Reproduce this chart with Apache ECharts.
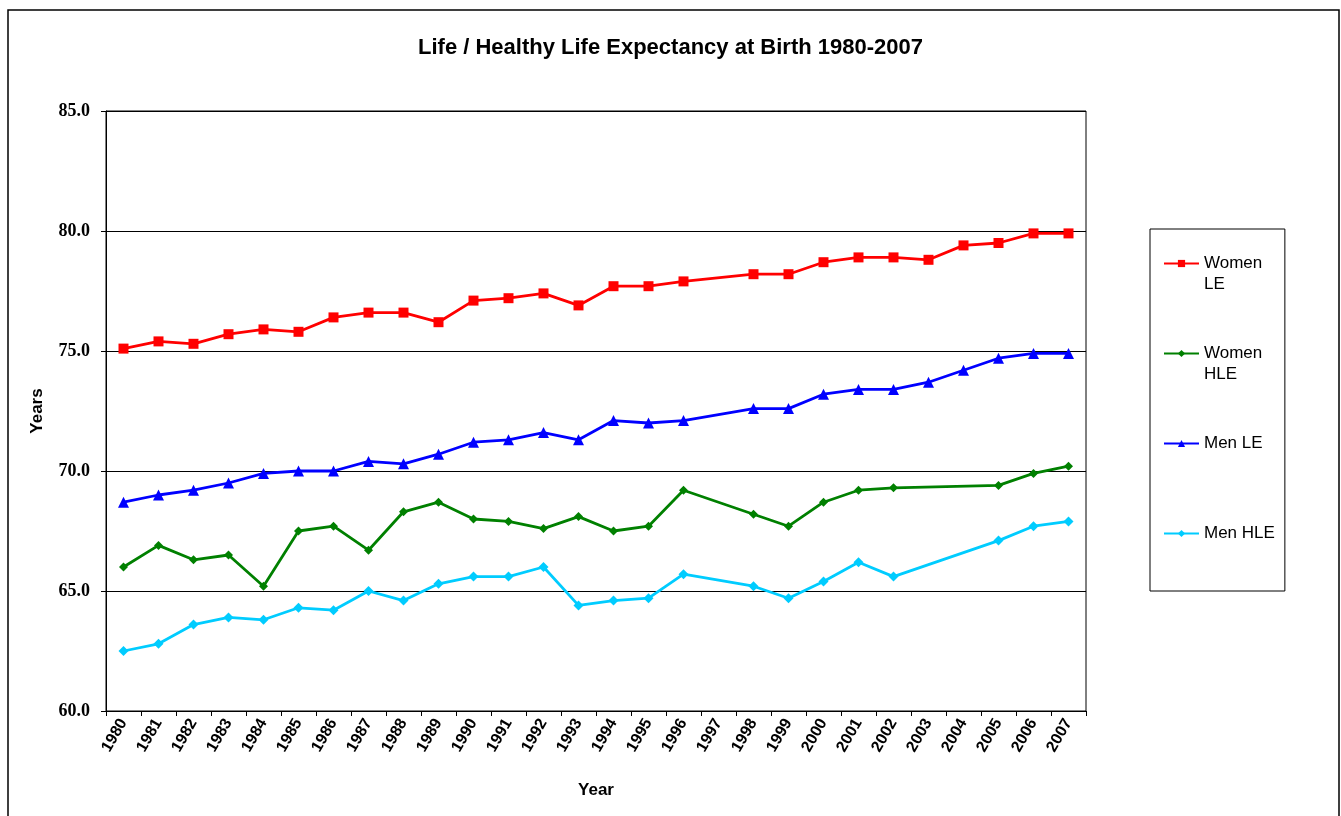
<!DOCTYPE html>
<html>
<head>
<meta charset="utf-8">
<script src="https://cdn.jsdelivr.net/npm/echarts@6/dist/echarts.min.js"></script>
<style>
  html, body { margin: 0; padding: 0; background: #fff; }
  #chart { width: 1341px; height: 816px; }
</style>
</head>
<body>
<div id="chart"></div>
<script>
// data (1997 missing everywhere, 2003-2004 missing for HLE)
var years = ['1980','1981','1982','1983','1984','1985','1986','1987','1988','1989',
             '1990','1991','1992','1993','1994','1995','1996','1997','1998','1999',
             '2000','2001','2002','2003','2004','2005','2006','2007'];
var womenLE  = [75.1,75.4,75.3,75.7,75.9,75.8,76.4,76.6,76.6,76.2,
                77.1,77.2,77.4,76.9,77.7,77.7,77.9,null,78.2,78.2,
                78.7,78.9,78.9,78.8,79.4,79.5,79.9,79.9];
var womenHLE = [66.0,66.9,66.3,66.5,65.2,67.5,67.7,66.7,68.3,68.7,
                68.0,67.9,67.6,68.1,67.5,67.7,69.2,null,68.2,67.7,
                68.7,69.2,69.3,null,null,69.4,69.9,70.2];
var menLE    = [68.7,69.0,69.2,69.5,69.9,70.0,70.0,70.4,70.3,70.7,
                71.2,71.3,71.6,71.3,72.1,72.0,72.1,null,72.6,72.6,
                73.2,73.4,73.4,73.7,74.2,74.7,74.9,74.9];
var menHLE   = [62.5,62.8,63.6,63.9,63.8,64.3,64.2,65.0,64.6,65.3,
                65.6,65.6,66.0,64.4,64.6,64.7,65.7,null,65.2,64.7,
                65.4,66.2,65.6,null,null,67.1,67.7,67.9];

var seriesNames = ['Women LE','Women HLE','Men LE','Men HLE'];
var legendText = {
  'Women LE':  ' \nWomen\nLE',
  'Women HLE': ' \nWomen\nHLE',
  'Men LE':    ' \nMen LE\n ',
  'Men HLE':   ' \nMen HLE\n '
};

var sans = '"Liberation Sans", Arial, sans-serif';

function line(name, data, color, symbol, size) {
  return {
    name: name,
    type: 'line',
    data: data,
    connectNulls: true,
    symbol: symbol,
    symbolSize: size,
    showAllSymbol: true,
    lineStyle: { color: color, width: 2.8 },
    itemStyle: { color: color },
    emphasis: { disabled: true },
    animation: false
  };
}

var myChart = echarts.init(document.getElementById('chart'));
var option = {
  backgroundColor: '#fff',
  animation: false,
  graphic: [{
    type: 'rect',
    shape: { x: 8, y: 10, width: 1331, height: 820 },
    style: { fill: null, stroke: '#000', lineWidth: 1.5 },
    silent: true
  }],
  title: {
    text: 'Life / Healthy Life Expectancy at Birth 1980-2007',
    left: 'center',
    top: 32,
    textStyle: { fontFamily: sans, fontSize: 22, fontWeight: 'bold', color: '#000' }
  },
  legend: {
    orient: 'vertical',
    left: 1150,
    top: 229,
    padding: [3, 10, 26, 13],
    itemGap: 27,
    itemWidth: 35,
    itemHeight: 9,
    borderColor: '#000',
    borderWidth: 1,
    data: seriesNames,
    formatter: function (n) { return legendText[n]; },
    textStyle: { fontFamily: sans, fontSize: 17, color: '#000', lineHeight: 21 }
  },
  grid: {
    left: 106,
    right: 255,
    top: 111,
    bottom: 105,
    show: true,
    borderColor: '#000',
    borderWidth: 1,
    containLabel: false
  },
  xAxis: {
    type: 'category',
    data: years,
    boundaryGap: true,
    name: 'Year',
    nameLocation: 'middle',
    nameGap: 71,
    nameTextStyle: { fontFamily: sans, fontSize: 17, fontWeight: 'bold', color: '#000' },
    axisLine: { lineStyle: { color: '#000', width: 1 } },
    axisTick: { show: true, length: 5, lineStyle: { color: '#000' } },
    axisLabel: {
      interval: 0,
      rotate: 60,
      margin: 9,
      fontFamily: sans,
      fontSize: 16,
      fontWeight: 'bold',
      color: '#000'
    },
    splitLine: { show: false }
  },
  yAxis: {
    type: 'value',
    min: 60,
    max: 85,
    interval: 5,
    name: 'Years',
    nameLocation: 'middle',
    nameGap: 60,
    nameTextStyle: { fontFamily: sans, fontSize: 17, fontWeight: 'bold', color: '#000' },
    axisLine: { show: true, lineStyle: { color: '#000', width: 1 } },
    axisTick: { show: true, length: 5, lineStyle: { color: '#000' } },
    axisLabel: {
      margin: 16,
      formatter: function (v) { return v.toFixed(1); },
      fontFamily: '"Liberation Serif", "Times New Roman", serif',
      fontSize: 18,
      fontWeight: 'bold',
      color: '#000'
    },
    splitLine: { show: true, lineStyle: { color: '#000', width: 1.2 } }
  },
  series: [
    line('Women LE', womenLE, '#ff0000', 'rect', 10),
    line('Women HLE', womenHLE, '#008000', 'diamond', 9),
    line('Men LE', menLE, '#0000ff', 'triangle', 11),
    line('Men HLE', menHLE, '#00ccff', 'diamond', 10)
  ]
};
myChart.setOption(option);
</script>
</body>
</html>
